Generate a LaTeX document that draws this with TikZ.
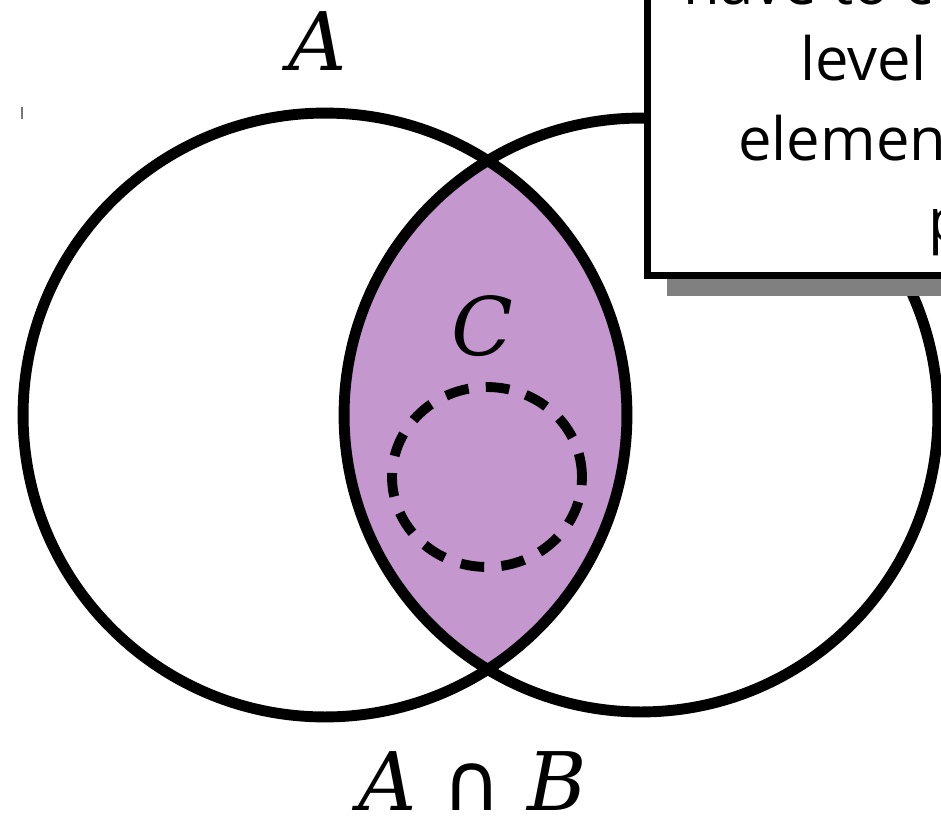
\documentclass[tikz,border=0pt]{standalone}
\usepackage{fontspec}
\usepackage{xcolor}
\usepackage{tikz}
\usetikzlibrary{shadows}
\newfontfamily\labelfont{DejaVu Serif}
\newfontfamily\symbfont{DejaVu Sans}
\newfontfamily\notefont{Open Sans}
\definecolor{vennInk}{HTML}{000000}
\definecolor{vennLens}{HTML}{C597CF}
\definecolor{vennShadow}{HTML}{808080}
\definecolor{vennTick}{HTML}{777777}
\tikzset{
  setline/.style={
    draw=vennInk,
    line width=6.2pt
  },
  subsetline/.style={
    draw=vennInk,
    line width=5.6pt,
    dash pattern=on 13.5pt off 9.8pt
  },
  setlabel/.style={
    anchor=base,
    inner sep=0pt,
    font=\labelfont\itshape\fontsize{46}{50}\selectfont
  },
  notebox/.style={
    rectangle,
    draw=vennInk,
    fill=white,
    line width=4pt,
    minimum width=9.06cm,
    minimum height=7.52cm,
    drop shadow={shadow xshift=0.4cm,shadow yshift=-0.4cm,fill=vennShadow,opacity=1}
  },
  noteline/.style={
    anchor=base west,
    inner sep=0pt,
    font=\notefont\fontsize{34}{40}\selectfont
  }
}

\begin{document}
\begin{tikzpicture}[x=0.02cm,y=-0.02cm]
  \clip (0,0) rectangle (941,816);
  \coordinate (cA) at (325,415);
  \coordinate (cB) at (641,415);
  \coordinate (cC) at (487,477);
  % shaded lens A and B
  \begin{scope}
    \clip (cA) circle[radius=6.04cm];
    \fill[vennLens] (cB) circle[radius=5.94cm];
  \end{scope}
  \draw[setline] (cA) circle[radius=6.04cm];
  \draw[setline] (cB) circle[radius=5.94cm];
  \draw[subsetline] (cC) ellipse[x radius=1.9cm,y radius=1.8cm];
  \draw[vennTick,line width=1.1pt] (22,107) -- (22,119);
  \node[setlabel] (labA) at (318,70) {A};
  \node[setlabel] (labC) at (482,355) {C};
  \node[setlabel] (labAB) at (473,810) {A {\symbfont\upshape ∩} B};
  % callout
  \node[notebox] (note) at (873.5,88) {};
  \node[noteline] (line1) at (683,4) {have to c};
  \node[noteline] (line2) at (800,80) {level};
  \node[noteline] (line3) at (738,160) {element};
  \node[noteline] (line4) at (928,241) {p};
\end{tikzpicture}
\end{document}
